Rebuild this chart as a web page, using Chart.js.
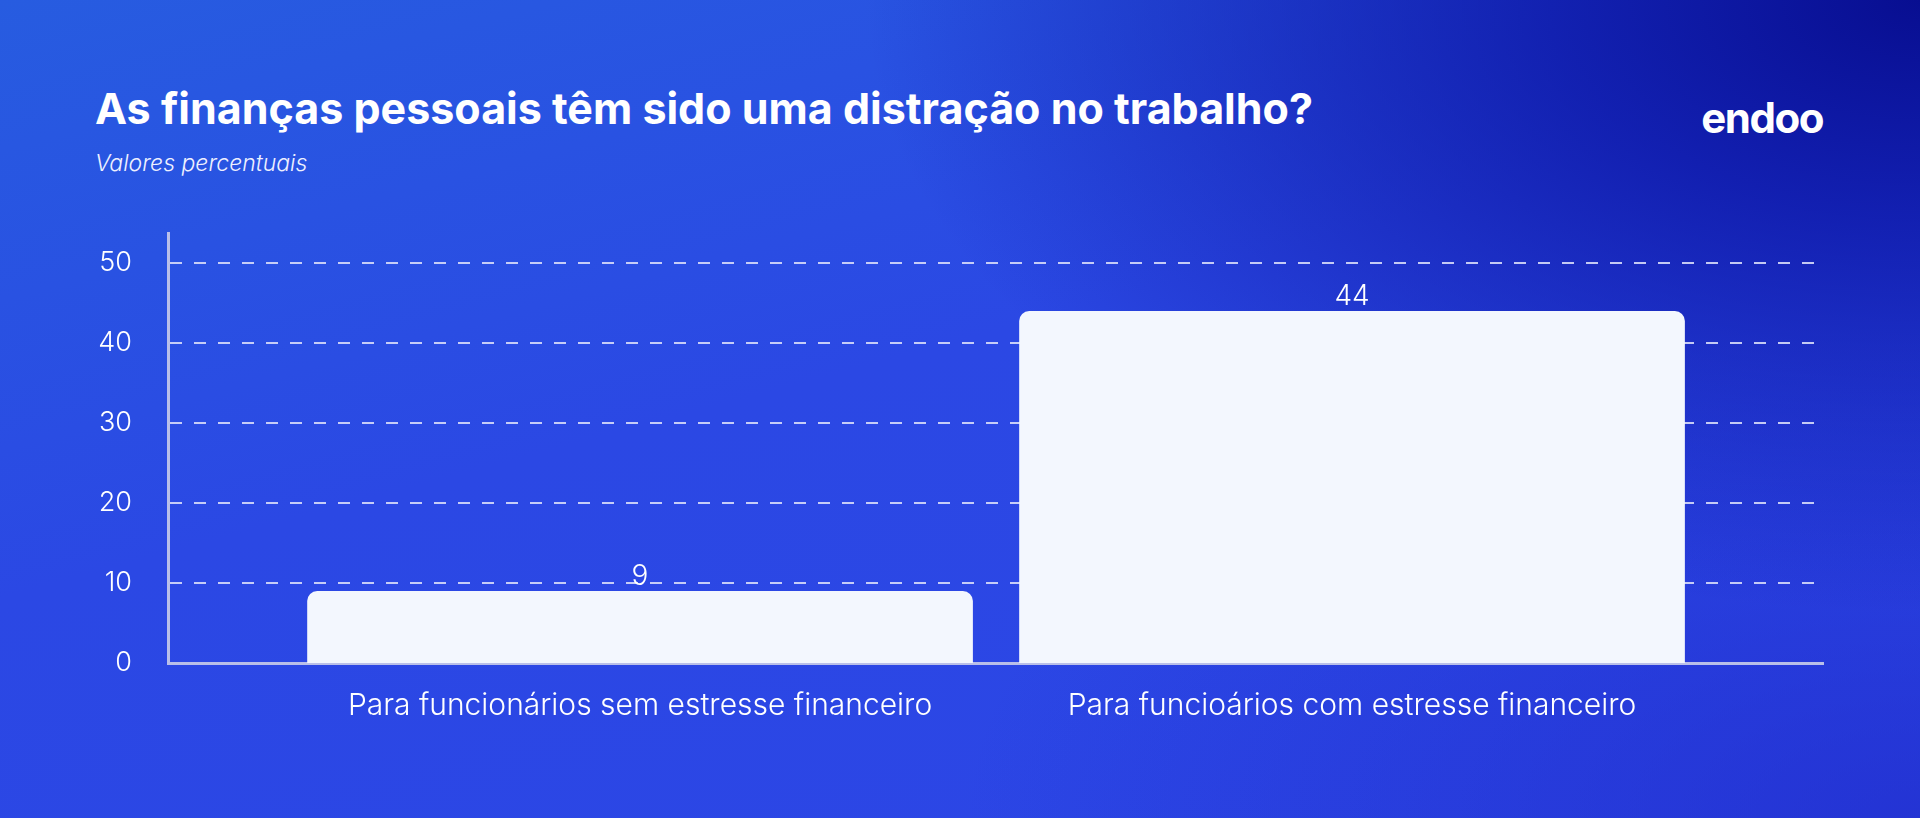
<!DOCTYPE html>
<html>
<head>
<meta charset="utf-8">
<script src="https://cdn.jsdelivr.net/npm/chart.js@4/dist/chart.umd.min.js"></script>
<style>
  html, body { margin:0; padding:0; }
  body {
    width:1920px; height:818px; overflow:hidden; position:relative;
    background:
      radial-gradient(ellipse 55% 75% at 100% 0%, rgba(8,14,145,1) 0%, rgba(10,18,160,0.75) 35%, rgba(20,30,190,0) 100%),
      radial-gradient(ellipse 50% 60% at 100% 100%, rgba(30,40,200,0.6) 0%, rgba(30,40,200,0) 100%),
      linear-gradient(165deg, #275ce0 0%, #2b48e4 45%, #2c45e6 100%);
    font-family: "Inter", "Open Sans", sans-serif;
  }
  #title {
    position:absolute; left:95px; top:87px; margin:0;
    color:#fff; font-weight:700; font-size:43px; line-height:1; white-space:nowrap;
  }
  #subtitle {
    position:absolute; left:95px; top:152px; margin:0;
    color:#eef0ff; font-style:italic; font-weight:300; font-size:23px; line-height:1; white-space:nowrap;
  }
  #logo {
    position:absolute; right:97px; top:97px; margin:0;
    color:#fff; font-weight:700; font-size:42px; line-height:1; letter-spacing:-1.5px;
  }
  #wrap { position:absolute; left:0; top:0; width:1920px; height:818px; }
</style>
</head>
<body>
<h1 id="title">As finanças pessoais têm sido uma distração no trabalho?</h1>
<p id="subtitle">Valores percentuais</p>
<div id="logo">endoo</div>
<div id="wrap"><canvas id="c" width="1920" height="818"></canvas></div>
<script>
const categories = ["Para funcionários sem estresse financeiro", "Para funcioários com estresse financeiro"];
const categoryPositions = [1, 2];
const values = [9, 44];
const yTicks = [0, 10, 20, 30, 40, 50];

const valueLabels = {
  id: 'valueLabels',
  afterDatasetsDraw(chart) {
    const ctx = chart.ctx;
    const meta = chart.getDatasetMeta(0);
    ctx.save();
    ctx.fillStyle = '#ffffff';
    ctx.font = '300 28px Inter, "Open Sans", sans-serif';
    ctx.textAlign = 'center';
    ctx.textBaseline = 'alphabetic';
    meta.data.forEach((bar, i) => {
      ctx.fillText(String(values[i]), bar.x, bar.y - 6);
    });
    ctx.restore();
  }
};

new Chart(document.getElementById('c'), {
  type: 'bar',
  data: {
    datasets: [{
      data: categoryPositions.map((x, i) => ({ x: x, y: values[i] })),
      backgroundColor: '#f3f7fe',
      borderWidth: 0,
      borderRadius: 10,
      borderSkipped: 'start',
      barPercentage: 0.935,
      categoryPercentage: 1
    }]
  },
  options: {
    responsive: false,
    animation: false,
    devicePixelRatio: 1,
    layout: { padding: { left: 0, right: 97, top: 233, bottom: 0 } },
    plugins: { legend: { display: false }, tooltip: { enabled: false } },
    scales: {
      x: {
        type: 'linear',
        min: 0.337,
        max: 2.6615,
        offset: false,
        bounds: 'data',
        grace: 0,
        afterBuildTicks(scale) { scale.ticks = categoryPositions.map(v => ({ value: v })); },
        afterFit(scale) { scale.height = 155; },
        ticks: {
          color: '#ffffff',
          font: { family: 'Inter, "Open Sans", sans-serif', size: 30, weight: '300' },
          padding: 25,
          maxRotation: 0,
          autoSkip: false,
          callback(v) { const i = categoryPositions.indexOf(v); return i >= 0 ? categories[i] : ''; }
        },
        grid: { display: false, drawTicks: false, offset: false },
        border: { display: true, color: '#b9bfe9', width: 3 }
      },
      y: {
        min: 0,
        max: 53.75,
        afterBuildTicks(scale) { scale.ticks = yTicks.map(v => ({ value: v })); },
        afterFit(scale) { scale.width = 168; },
        ticks: {
          color: '#ffffff',
          font: { family: 'Inter, "Open Sans", sans-serif', size: 27, weight: '300' },
          padding: 36
        },
        grid: {
          color: 'rgba(215,220,250,0.9)',
          lineWidth: (c) => c.tick && c.tick.value === 0 ? 0 : 2,
          drawTicks: false
        },
        border: { display: true, color: '#b9bfe9', width: 3, dash: [12, 12] }
      }
    }
  },
  plugins: [valueLabels]
});
</script>
</body>
</html>
